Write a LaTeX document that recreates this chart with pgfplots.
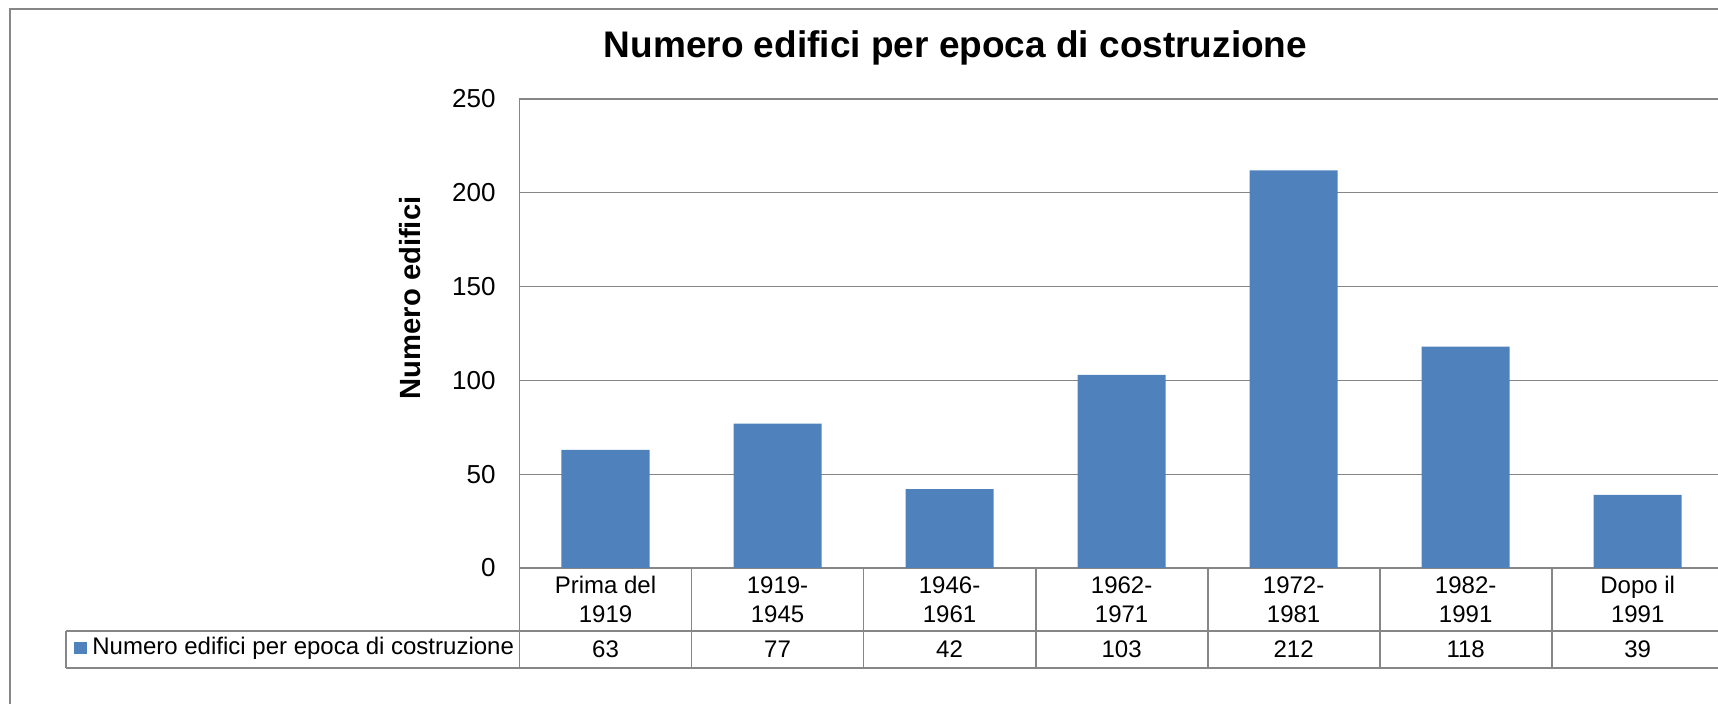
\documentclass[border=0pt]{standalone}
\usepackage{pgfplots}
\pgfplotsset{compat=1.18}
\usepackage{fontspec}
\setmainfont{Liberation Sans}
\definecolor{barblue}{HTML}{4F81BD}
\definecolor{linegray}{HTML}{868686}
\begin{document}
\begin{tikzpicture}
\useasboundingbox (0pt,0pt) rectangle (859pt,-352pt);
\clip (0pt,0pt) rectangle (859pt,-352pt);
\begin{scope}[x=0.5pt,y=-0.5pt]
\draw[linegray, line width=1pt] (10,704) -- (10,9.5) -- (1718,9.5);
\node[anchor=base, font=\fontsize{18.5}{21}\selectfont\bfseries, inner sep=0pt] at (955.5,58) {Numero edifici per epoca di costruzione};
\node[rotate=90, font=\fontsize{14.6}{17}\selectfont\bfseries, inner sep=0pt] at (410,298) {Numero edifici};
\end{scope}
\begin{axis}[
  at={(259.75pt,-284pt)}, anchor=south west,
  width=602.1pt, height=234.5pt, scale only axis,
  xmin=-0.5, xmax=6.5, ymin=0, ymax=250,
  ytick={0,50,...,250},
  ymajorgrids, grid style={linegray, line width=0.6pt},
  axis line style={linegray, line width=0.75pt},
  major tick length=0pt,
  xtick={0,...,6},
  xticklabels={{Prima del\\1919},{1919-\\1945},{1946-\\1961},{1962-\\1971},{1972-\\1981},{1982-\\1991},{Dopo il\\1991}},
  xticklabel style={align=center, anchor=center, inner sep=0pt, yshift=-15.75pt, font=\fontsize{12}{14.5}\selectfont},
  yticklabel style={anchor=east, inner sep=0pt, xshift=-11.75pt, font=\fontsize{13}{15}\selectfont},
  /pgf/number format/assume math mode=true,
  extra x ticks={0,...,6},
  extra x tick labels={63,77,42,103,212,118,39},
  extra x tick style={grid=none, xticklabel style={yshift=-25pt}},
  ybar, bar width=0.512,
]
\addplot[fill=barblue, draw=none] coordinates {(0,63) (1,77) (2,42) (3,103) (4,212) (5,118) (6,39)};
\end{axis}
\begin{scope}[x=0.5pt,y=-0.5pt]
\draw[linegray, line width=0.9pt] (66,631) -- (1718,631);
\draw[linegray, line width=0.9pt] (66,668) -- (1718,668);
\draw[linegray, line width=0.9pt] (66,631) -- (66,668);
\draw[linegray, line width=0.9pt] (519.5,568) -- (519.5,668);
\foreach \k in {1,...,6} {
  \draw[linegray, line width=0.9pt] ({519.5+172.03*\k},568) -- ({519.5+172.03*\k},668);
}
\fill[barblue] (74,642) rectangle (87,654);
\node[anchor=base west, inner sep=0pt, font=\fontsize{12}{14.5}\selectfont] at (92,655) {Numero edifici per epoca di costruzione};
\end{scope}
\end{tikzpicture}
\end{document}
